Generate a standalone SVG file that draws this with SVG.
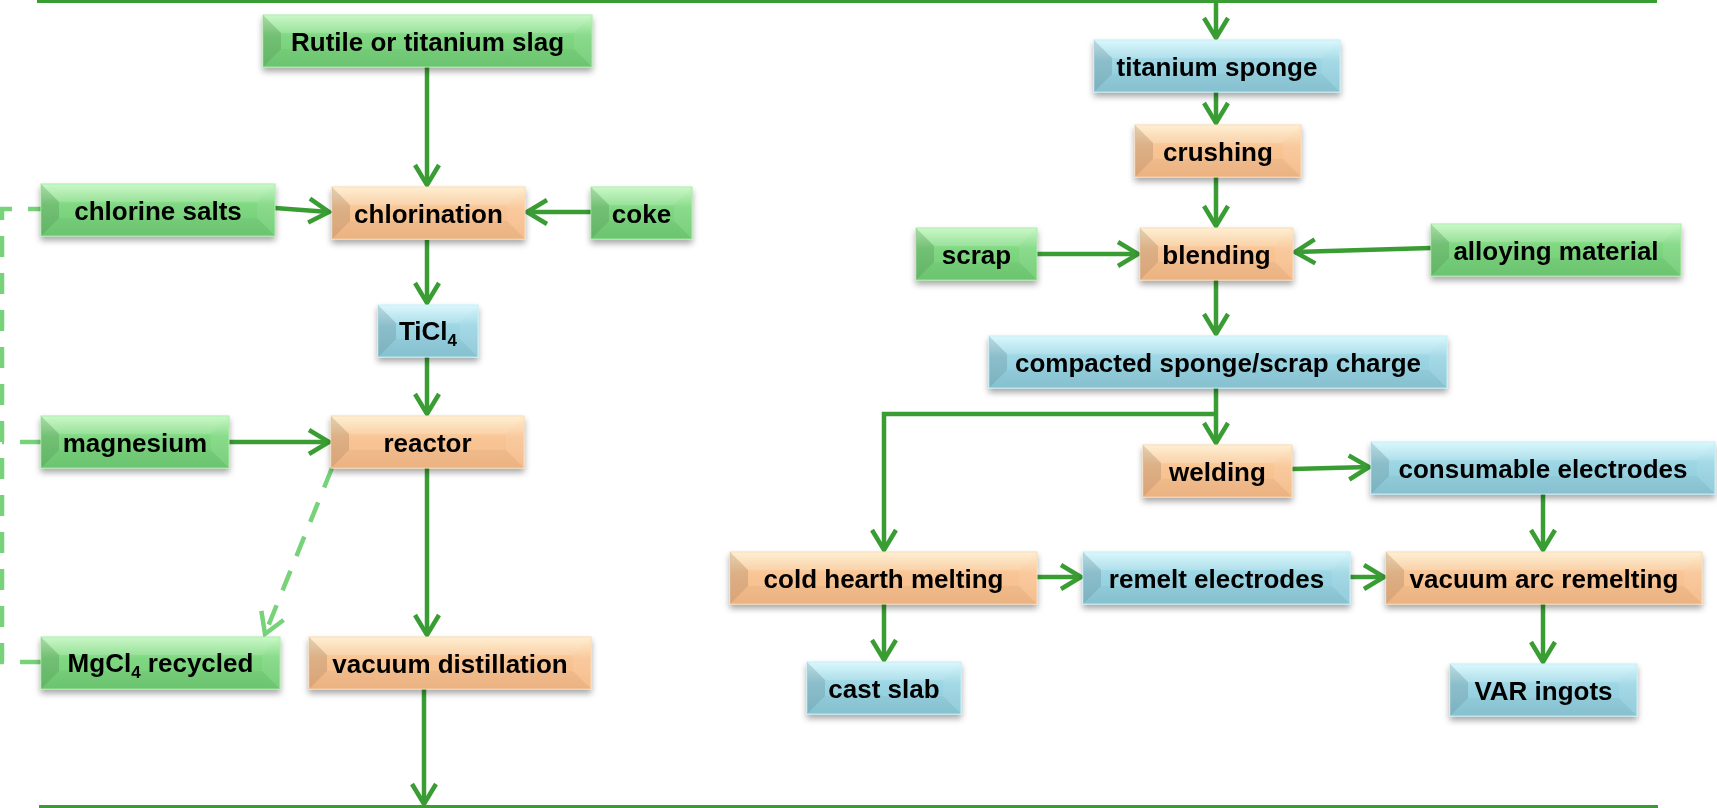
<svg xmlns="http://www.w3.org/2000/svg" xmlns:xlink="http://www.w3.org/1999/xlink" width="1717" height="808" viewBox="0 0 1717 808">
<style>
.t{font-family:"Liberation Sans",Arial,sans-serif;font-weight:bold;font-size:26px;fill:#000;text-anchor:middle}
.sub{font-size:17px}
.g .base{fill:url(#gG);stroke:#a6eca4;stroke-width:1}
.o .base{fill:url(#gO);stroke:#fbd7ad;stroke-width:1}
.b .base{fill:url(#gB);stroke:#bfeef8;stroke-width:1}
.bl{fill:#000;fill-opacity:.11}
.br{fill:#fff;fill-opacity:.08}
.bt{fill:#fff;fill-opacity:.14}
.bb{fill:#000;fill-opacity:.03}
.node{filter:url(#sh)}
.c{fill:none;stroke:#3a9d34;stroke-width:4.5;marker-end:url(#ar)}
.ln{fill:none;stroke:#3a9d34;stroke-width:3}
.d{fill:none;stroke:#77d27a;stroke-width:4.5;stroke-dasharray:21 16}
</style>
<defs>
<linearGradient id="gG" x1="0" y1="0" x2="0" y2="1"><stop offset="0" stop-color="#c2f8bf"/><stop offset="0.4" stop-color="#80d882"/><stop offset="1" stop-color="#6fcb73"/></linearGradient>
<linearGradient id="gO" x1="0" y1="0" x2="0" y2="1"><stop offset="0" stop-color="#feedcb"/><stop offset="0.4" stop-color="#f9c696"/><stop offset="1" stop-color="#f4b886"/></linearGradient>
<linearGradient id="gB" x1="0" y1="0" x2="0" y2="1"><stop offset="0" stop-color="#d4f7fd"/><stop offset="0.4" stop-color="#9dd6e4"/><stop offset="1" stop-color="#8bc8d7"/></linearGradient>
<filter id="sh" x="-10%" y="-20%" width="120%" height="160%"><feDropShadow dx="0" dy="4" stdDeviation="3" flood-color="#000" flood-opacity="0.35"/></filter>
<marker id="ar" markerUnits="userSpaceOnUse" markerWidth="30" markerHeight="30" viewBox="-24 -15 28 30" refX="0" refY="0" orient="auto" overflow="visible"><path d="M-20,-12 L0,0 L-20,12" fill="none" stroke="#3a9d34" stroke-width="4.5" stroke-linejoin="miter" stroke-linecap="butt"/></marker>
<marker id="ard" markerUnits="userSpaceOnUse" markerWidth="30" markerHeight="30" viewBox="-24 -15 28 30" refX="0" refY="0" orient="auto" overflow="visible"><path d="M-20,-12 L0,0 L-20,12" fill="none" stroke="#77d27a" stroke-width="4.5"/></marker>
<polygon id="bevL" points="0,0 18,18 18,34 0,52"/>
</defs>

<g id="connectors">
<path class="ln" d="M37,1.5 H1657"/>
<path class="ln" d="M39,806.5 H1658"/>
<path class="c" d="M427,67 V185"/>
<path class="c" d="M275,208 L329,212"/>
<path class="c" d="M591,212 H527"/>
<path class="c" d="M427,240 V303"/>
<path class="c" d="M427,357 V414"/>
<path class="c" d="M229,442 H329"/>
<path class="c" d="M427,468 V635"/>
<path class="c" d="M424,688 V804"/>
<path class="d" d="M332,468 L265,634" marker-end="url(#ard)"/>
<path class="d" d="M41,662 H2 V209 H41"/>
<path class="d" d="M41,442 H2"/>
<path class="c" d="M1216,2 V38"/>
<path class="c" d="M1216,92 V123"/>
<path class="c" d="M1216,177 V226"/>
<path class="c" d="M1037,254 H1138"/>
<path class="c" d="M1431,248 L1295,252"/>
<path class="c" d="M1216,279 V334"/>
<path class="c" d="M1216,387 V443"/>
<path class="c" d="M1216,414 H884 V550"/>
<path class="c" d="M1292,469 L1369,467"/>
<path class="c" d="M1543,493 V550"/>
<path class="c" d="M1037,577 H1081"/>
<path class="c" d="M1350,577 H1384"/>
<path class="c" d="M884,604 V660"/>
<path class="c" d="M1543,604 V662"/>
</g>

<g id="rutile" class="node g" transform="translate(263,15)"><rect class="base" width="329" height="52"/><use href="#bevL" class="bl"/><polygon class="br" points="329,0 311,18 311,34 329,52"/><polygon class="bt" points="0,0 329,0 311,18 18,18"/><polygon class="bb" points="0,52 329,52 311,34 18,34"/><text class="t" x="164.5" y="36">Rutile or titanium slag</text></g>

<g id="chlorine-salts" class="node g" transform="translate(41,184)"><rect class="base" width="234" height="52"/><use href="#bevL" class="bl"/><polygon class="br" points="234,0 216,18 216,34 234,52"/><polygon class="bt" points="0,0 234,0 216,18 18,18"/><polygon class="bb" points="0,52 234,52 216,34 18,34"/><text class="t" x="117" y="36">chlorine salts</text></g>

<g id="coke" class="node g" transform="translate(591,187)"><rect class="base" width="101" height="52"/><use href="#bevL" class="bl"/><polygon class="br" points="101,0 83,18 83,34 101,52"/><polygon class="bt" points="0,0 101,0 83,18 18,18"/><polygon class="bb" points="0,52 101,52 83,34 18,34"/><text class="t" x="50.5" y="36">coke</text></g>

<g id="magnesium" class="node g" transform="translate(41,416)"><rect class="base" width="188" height="52"/><use href="#bevL" class="bl"/><polygon class="br" points="188,0 170,18 170,34 188,52"/><polygon class="bt" points="0,0 188,0 170,18 18,18"/><polygon class="bb" points="0,52 188,52 170,34 18,34"/><text class="t" x="94" y="36">magnesium</text></g>

<g id="mgcl4" class="node g" transform="translate(41,637)"><rect class="base" width="239" height="52"/><use href="#bevL" class="bl"/><polygon class="br" points="239,0 221,18 221,34 239,52"/><polygon class="bt" points="0,0 239,0 221,18 18,18"/><polygon class="bb" points="0,52 239,52 221,34 18,34"/><text class="t" x="119.5" y="35">MgCl<tspan class="sub" dy="6">4</tspan><tspan dy="-6"> recycled</tspan></text></g>

<g id="scrap" class="node g" transform="translate(916,228)"><rect class="base" width="121" height="52"/><use href="#bevL" class="bl"/><polygon class="br" points="121,0 103,18 103,34 121,52"/><polygon class="bt" points="0,0 121,0 103,18 18,18"/><polygon class="bb" points="0,52 121,52 103,34 18,34"/><text class="t" x="60.5" y="36">scrap</text></g>

<g id="alloying" class="node g" transform="translate(1431,224)"><rect class="base" width="250" height="52"/><use href="#bevL" class="bl"/><polygon class="br" points="250,0 232,18 232,34 250,52"/><polygon class="bt" points="0,0 250,0 232,18 18,18"/><polygon class="bb" points="0,52 250,52 232,34 18,34"/><text class="t" x="125" y="36">alloying material</text></g>

<g id="chlorination" class="node o" transform="translate(332,187)"><rect class="base" width="193" height="52"/><use href="#bevL" class="bl"/><polygon class="br" points="193,0 175,18 175,34 193,52"/><polygon class="bt" points="0,0 193,0 175,18 18,18"/><polygon class="bb" points="0,52 193,52 175,34 18,34"/><text class="t" x="96.5" y="36">chlorination</text></g>

<g id="reactor" class="node o" transform="translate(331,416)"><rect class="base" width="193" height="52"/><use href="#bevL" class="bl"/><polygon class="br" points="193,0 175,18 175,34 193,52"/><polygon class="bt" points="0,0 193,0 175,18 18,18"/><polygon class="bb" points="0,52 193,52 175,34 18,34"/><text class="t" x="96.5" y="36">reactor</text></g>

<g id="vacuum-distillation" class="node o" transform="translate(309,637)"><rect class="base" width="282" height="52"/><use href="#bevL" class="bl"/><polygon class="br" points="282,0 264,18 264,34 282,52"/><polygon class="bt" points="0,0 282,0 264,18 18,18"/><polygon class="bb" points="0,52 282,52 264,34 18,34"/><text class="t" x="141" y="36">vacuum distillation</text></g>

<g id="crushing" class="node o" transform="translate(1135,125)"><rect class="base" width="166" height="52"/><use href="#bevL" class="bl"/><polygon class="br" points="166,0 148,18 148,34 166,52"/><polygon class="bt" points="0,0 166,0 148,18 18,18"/><polygon class="bb" points="0,52 166,52 148,34 18,34"/><text class="t" x="83" y="36">crushing</text></g>

<g id="blending" class="node o" transform="translate(1140,228)"><rect class="base" width="153" height="52"/><use href="#bevL" class="bl"/><polygon class="br" points="153,0 135,18 135,34 153,52"/><polygon class="bt" points="0,0 153,0 135,18 18,18"/><polygon class="bb" points="0,52 153,52 135,34 18,34"/><text class="t" x="76.5" y="36">blending</text></g>

<g id="welding" class="node o" transform="translate(1143,445)"><rect class="base" width="149" height="52"/><use href="#bevL" class="bl"/><polygon class="br" points="149,0 131,18 131,34 149,52"/><polygon class="bt" points="0,0 149,0 131,18 18,18"/><polygon class="bb" points="0,52 149,52 131,34 18,34"/><text class="t" x="74.5" y="36">welding</text></g>

<g id="cold-hearth" class="node o" transform="translate(730,552)"><rect class="base" width="307" height="52"/><use href="#bevL" class="bl"/><polygon class="br" points="307,0 289,18 289,34 307,52"/><polygon class="bt" points="0,0 307,0 289,18 18,18"/><polygon class="bb" points="0,52 307,52 289,34 18,34"/><text class="t" x="153.5" y="36">cold hearth melting</text></g>

<g id="var" class="node o" transform="translate(1386,552)"><rect class="base" width="316" height="52"/><use href="#bevL" class="bl"/><polygon class="br" points="316,0 298,18 298,34 316,52"/><polygon class="bt" points="0,0 316,0 298,18 18,18"/><polygon class="bb" points="0,52 316,52 298,34 18,34"/><text class="t" x="158" y="36">vacuum arc remelting</text></g>

<g id="ticl4" class="node b" transform="translate(378,305)"><rect class="base" width="100" height="52"/><use href="#bevL" class="bl"/><polygon class="br" points="100,0 82,18 82,34 100,52"/><polygon class="bt" points="0,0 100,0 82,18 18,18"/><polygon class="bb" points="0,52 100,52 82,34 18,34"/><text class="t" x="50" y="35">TiCl<tspan class="sub" dy="6">4</tspan></text></g>

<g id="titanium-sponge" class="node b" transform="translate(1094,40)"><rect class="base" width="246" height="52"/><use href="#bevL" class="bl"/><polygon class="br" points="246,0 228,18 228,34 246,52"/><polygon class="bt" points="0,0 246,0 228,18 18,18"/><polygon class="bb" points="0,52 246,52 228,34 18,34"/><text class="t" x="123" y="36">titanium sponge</text></g>

<g id="compacted" class="node b" transform="translate(989,336)"><rect class="base" width="458" height="52"/><use href="#bevL" class="bl"/><polygon class="br" points="458,0 440,18 440,34 458,52"/><polygon class="bt" points="0,0 458,0 440,18 18,18"/><polygon class="bb" points="0,52 458,52 440,34 18,34"/><text class="t" x="229" y="36">compacted sponge/scrap charge</text></g>

<g id="consumable" class="node b" transform="translate(1371,442)"><rect class="base" width="344" height="52"/><use href="#bevL" class="bl"/><polygon class="br" points="344,0 326,18 326,34 344,52"/><polygon class="bt" points="0,0 344,0 326,18 18,18"/><polygon class="bb" points="0,52 344,52 326,34 18,34"/><text class="t" x="172" y="36">consumable electrodes</text></g>

<g id="remelt" class="node b" transform="translate(1083,552)"><rect class="base" width="267" height="52"/><use href="#bevL" class="bl"/><polygon class="br" points="267,0 249,18 249,34 267,52"/><polygon class="bt" points="0,0 267,0 249,18 18,18"/><polygon class="bb" points="0,52 267,52 249,34 18,34"/><text class="t" x="133.5" y="36">remelt electrodes</text></g>

<g id="cast-slab" class="node b" transform="translate(807,662)"><rect class="base" width="154" height="52"/><use href="#bevL" class="bl"/><polygon class="br" points="154,0 136,18 136,34 154,52"/><polygon class="bt" points="0,0 154,0 136,18 18,18"/><polygon class="bb" points="0,52 154,52 136,34 18,34"/><text class="t" x="77" y="36">cast slab</text></g>

<g id="var-ingots" class="node b" transform="translate(1450,664)"><rect class="base" width="187" height="52"/><use href="#bevL" class="bl"/><polygon class="br" points="187,0 169,18 169,34 187,52"/><polygon class="bt" points="0,0 187,0 169,18 18,18"/><polygon class="bb" points="0,52 187,52 169,34 18,34"/><text class="t" x="93.5" y="36">VAR ingots</text></g>
</svg>
